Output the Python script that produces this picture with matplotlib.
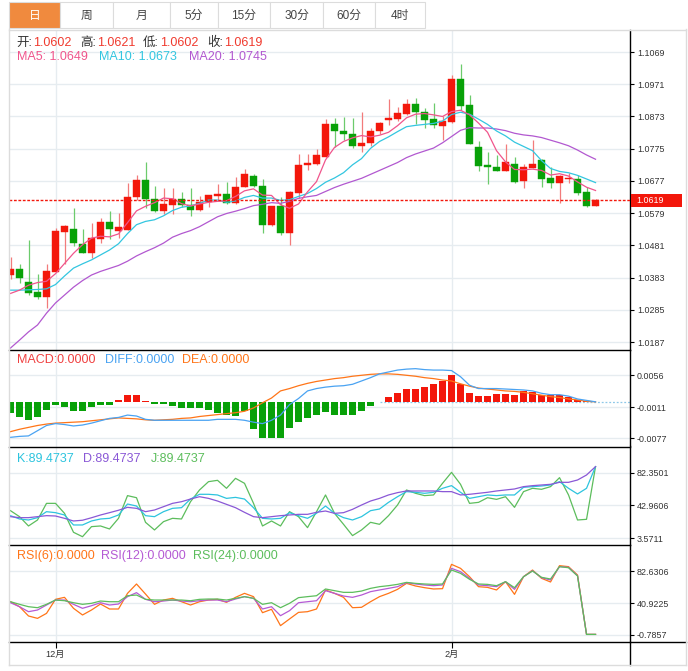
import matplotlib
matplotlib.use('Agg')
import matplotlib.pyplot as plt
from matplotlib.lines import Line2D
from matplotlib.patches import Rectangle

plt.rcParams['font.family'] = ['Liberation Sans', 'Noto Sans CJK SC', 'DejaVu Sans']

# ---------------- data ----------------
tabs = ['日', '周', '月', '5分', '15分', '30分', '60分', '4时']

opens = [1.0392, 1.0409, 1.0369, 1.0339, 1.0325, 1.0401, 1.0523, 1.0530, 1.0486, 1.0459,
         1.0502, 1.0552, 1.0526, 1.0528, 1.0629, 1.0680, 1.0621, 1.0586, 1.0605, 1.0621,
         1.0603, 1.0589, 1.0613, 1.0630, 1.0637, 1.0609, 1.0659, 1.0692, 1.0662, 1.0544,
         1.0601, 1.0519, 1.0639, 1.0724, 1.0729, 1.0751, 1.0851, 1.0830, 1.0820, 1.0784,
         1.0791, 1.0829, 1.0862, 1.0866, 1.0880, 1.0911, 1.0887, 1.0864, 1.0844, 1.0857,
         1.0987, 1.0908, 1.0780, 1.0725, 1.0720, 1.0707, 1.0730, 1.0678, 1.0716, 1.0741,
         1.0685, 1.0670, 1.0682, 1.0683, 1.0643, 1.0602]
highs = [1.0447, 1.0426, 1.0497, 1.0394, 1.0426, 1.0533, 1.0544, 1.0594, 1.0532, 1.0548,
         1.0563, 1.0586, 1.0579, 1.0672, 1.0695, 1.0734, 1.0662, 1.0656, 1.0656, 1.0643,
         1.0656, 1.0631, 1.0634, 1.0668, 1.0674, 1.0688, 1.0712, 1.0697, 1.0682, 1.0601,
         1.0627, 1.0646, 1.0759, 1.0759, 1.0773, 1.0865, 1.0867, 1.0872, 1.0867, 1.0887,
         1.0839, 1.0857, 1.0926, 1.0903, 1.0925, 1.0930, 1.0898, 1.0915, 1.0875, 1.0999,
         1.1033, 1.0939, 1.0798, 1.0765, 1.0756, 1.0789, 1.0751, 1.0730, 1.0801, 1.0743,
         1.0718, 1.0695, 1.0700, 1.0695, 1.0659, 1.0621]
lows = [1.0380, 1.0367, 1.0330, 1.0319, 1.0290, 1.0400, 1.0426, 1.0479, 1.0457, 1.0442,
        1.0489, 1.0500, 1.0505, 1.0528, 1.0619, 1.0594, 1.0583, 1.0578, 1.0578, 1.0597,
        1.0571, 1.0586, 1.0599, 1.0619, 1.0607, 1.0607, 1.0658, 1.0659, 1.0519, 1.0540,
        1.0513, 1.0482, 1.0626, 1.0710, 1.0727, 1.0750, 1.0779, 1.0801, 1.0776, 1.0766,
        1.0783, 1.0820, 1.0847, 1.0859, 1.0877, 1.0850, 1.0837, 1.0839, 1.0801, 1.0852,
        1.0893, 1.0790, 1.0708, 1.0668, 1.0707, 1.0707, 1.0670, 1.0655, 1.0716, 1.0659,
        1.0656, 1.0611, 1.0670, 1.0634, 1.0599, 1.0602]
closes = [1.0409, 1.0383, 1.0337, 1.0325, 1.0404, 1.0525, 1.0540, 1.0489, 1.0459, 1.0503,
          1.0552, 1.0531, 1.0536, 1.0629, 1.0680, 1.0623, 1.0586, 1.0606, 1.0621, 1.0603,
          1.0590, 1.0614, 1.0633, 1.0637, 1.0609, 1.0659, 1.0698, 1.0662, 1.0544, 1.0601,
          1.0519, 1.0642, 1.0727, 1.0732, 1.0755, 1.0851, 1.0830, 1.0819, 1.0784, 1.0792,
          1.0830, 1.0854, 1.0867, 1.0883, 1.0910, 1.0886, 1.0862, 1.0847, 1.0859, 1.0987,
          1.0906, 1.0790, 1.0723, 1.0720, 1.0707, 1.0736, 1.0675, 1.0718, 1.0730, 1.0684,
          1.0670, 1.0692, 1.0685, 1.0641, 1.0602, 1.0619]

ma5 = [1.0335, 1.0345, 1.0360, 1.0368, 1.0372, 1.0395, 1.0426, 1.0457, 1.0483, 1.0503,
       1.0509, 1.0507, 1.0516, 1.0550, 1.0586, 1.0600, 1.0611, 1.0625, 1.0623, 1.0608,
       1.0601, 1.0607, 1.0612, 1.0615, 1.0617, 1.0630, 1.0647, 1.0653, 1.0634, 1.0633,
       1.0605, 1.0594, 1.0607, 1.0644, 1.0675, 1.0741, 1.0779, 1.0797, 1.0808, 1.0815,
       1.0811, 1.0816, 1.0825, 1.0845, 1.0869, 1.0880, 1.0882, 1.0878, 1.0873, 1.0888,
       1.0892, 1.0878, 1.0853, 1.0825, 1.0769, 1.0735, 1.0712, 1.0711, 1.0713, 1.0709,
       1.0695, 1.0699, 1.0692, 1.0674, 1.0658, 1.0648]
ma10 = [1.0345, 1.0345, 1.0346, 1.0347, 1.0349, 1.0362, 1.0388, 1.0412, 1.0425, 1.0437,
        1.0452, 1.0467, 1.0486, 1.0517, 1.0544, 1.0554, 1.0559, 1.0571, 1.0587, 1.0597,
        1.0601, 1.0609, 1.0619, 1.0619, 1.0612, 1.0616, 1.0627, 1.0633, 1.0625, 1.0625,
        1.0618, 1.0620, 1.0630, 1.0639, 1.0654, 1.0673, 1.0686, 1.0702, 1.0726, 1.0745,
        1.0776, 1.0797, 1.0811, 1.0827, 1.0842, 1.0846, 1.0849, 1.0852, 1.0859, 1.0879,
        1.0886, 1.0880, 1.0865, 1.0849, 1.0829, 1.0814, 1.0795, 1.0782, 1.0769, 1.0739,
        1.0715, 1.0706, 1.0702, 1.0694, 1.0683, 1.0672]
ma20 = [1.0169, 1.0193, 1.0218, 1.0239, 1.0275, 1.0306, 1.0330, 1.0354, 1.0374, 1.0391,
        1.0402, 1.0411, 1.0420, 1.0433, 1.0449, 1.0462, 1.0474, 1.0488, 1.0506, 1.0517,
        1.0526, 1.0538, 1.0553, 1.0568, 1.0578, 1.0585, 1.0593, 1.0602, 1.0606, 1.0611,
        1.0609, 1.0615, 1.0624, 1.0629, 1.0633, 1.0645, 1.0657, 1.0667, 1.0676, 1.0685,
        1.0697, 1.0709, 1.0721, 1.0733, 1.0748, 1.0759, 1.0768, 1.0777, 1.0793, 1.0812,
        1.0831, 1.0839, 1.0838, 1.0838, 1.0835, 1.0830, 1.0822, 1.0817, 1.0814, 1.0809,
        1.0801, 1.0793, 1.0784, 1.0771, 1.0756, 1.0743]

macd_hist = [-0.0023, -0.0032, -0.0038, -0.0032, -0.0017, -0.0006, -0.0011, -0.0020, -0.0020, -0.0011,
             -0.0006, -0.0006, 0.0003, 0.0014, 0.0014, 0.0001, -0.0004, -0.0004, -0.0008, -0.0013,
             -0.0014, -0.0014, -0.0017, -0.0023, -0.0028, -0.0030, -0.0020, -0.0058, -0.0076, -0.0076,
             -0.0076, -0.0055, -0.0042, -0.0035, -0.0028, -0.0021, -0.0027, -0.0028, -0.0028, -0.0020,
             -0.0008, 0.0000, 0.0010, 0.0018, 0.0026, 0.0026, 0.0031, 0.0038, 0.0044, 0.0056,
             0.0037, 0.0019, 0.0012, 0.0013, 0.0017, 0.0017, 0.0015, 0.0022, 0.0020, 0.0015,
             0.0015, 0.0015, 0.0010, 0.0004, 0.0001, 0.0000]
diff = [-0.0075, -0.0073, -0.0072, -0.0061, -0.0050, -0.0046, -0.0048, -0.0051, -0.0049, -0.0045,
        -0.0040, -0.0035, -0.0033, -0.0028, -0.0030, -0.0037, -0.0039, -0.0039, -0.0039, -0.0039,
        -0.0039, -0.0039, -0.0039, -0.0037, -0.0037, -0.0037, -0.0039, -0.0043, -0.0046, -0.0039,
        -0.0028, -0.0006, 0.0007, 0.0023, 0.0028, 0.0031, 0.0033, 0.0034, 0.0037, 0.0044,
        0.0051, 0.0059, 0.0063, 0.0067, 0.0069, 0.0070, 0.0068, 0.0067, 0.0067, 0.0066,
        0.0053, 0.0035, 0.0028, 0.0028, 0.0028, 0.0027, 0.0026, 0.0025, 0.0023, 0.0018,
        0.0015, 0.0015, 0.0012, 0.0006, 0.0003, 0.0000]
dea = [-0.0063, -0.0058, -0.0054, -0.0050, -0.0047, -0.0045, -0.0044, -0.0043, -0.0042, -0.0040,
       -0.0038, -0.0036, -0.0034, -0.0035, -0.0036, -0.0038, -0.0039, -0.0038, -0.0037, -0.0035,
       -0.0034, -0.0031, -0.0029, -0.0027, -0.0025, -0.0023, -0.0020, -0.0013, -0.0002, 0.0008,
       0.0023, 0.0028, 0.0034, 0.0039, 0.0043, 0.0046, 0.0049, 0.0051, 0.0054, 0.0056,
       0.0058, 0.0059, 0.0059, 0.0058, 0.0056, 0.0054, 0.0051, 0.0049, 0.0046, 0.0044,
       0.0038, 0.0033, 0.0029, 0.0027, 0.0025, 0.0023, 0.0022, 0.0020, 0.0017, 0.0014,
       0.0011, 0.0009, 0.0006, 0.0004, 0.0001, 0.0000]

k_vals = [30.5, 26.5, 25.3, 28.1, 35.3, 34.1, 31.3, 19.3, 19.3, 24.1,
          26.5, 27.3, 31.3, 44.5, 42.1, 30.5, 29.3, 35.3, 39.3, 40.1,
          50.5, 56.2, 56.2, 55.4, 51.3, 52.5, 50.5, 40.1, 27.3, 26.5,
          27.3, 34.1, 30.5, 27.3, 33.3, 42.1, 33.3, 28.1, 25.3, 29.3,
          36.5, 38.5, 46.5, 53.3, 59.4, 58.6, 57.4, 58.6, 63.4, 66.6,
          58.6, 51.3, 53.3, 55.4, 54.6, 55.4, 55.4, 64.6, 65.4, 66.2,
          67.4, 71.4, 63.4, 56.6, 63.4, 89.4737]
d_vals = [29.3, 28.1, 28.1, 29.3, 30.5, 30.1, 27.3, 24.1, 25.0, 28.0,
          31.3, 34.1, 37.0, 40.5, 39.3, 35.3, 37.3, 41.3, 45.3, 47.3,
          50.5, 53.3, 51.3, 48.1, 44.1, 40.1, 34.5, 29.3, 28.1, 29.3,
          30.5, 31.3, 32.1, 32.1, 34.5, 36.1, 33.3, 34.1, 38.1, 43.3,
          48.1, 51.3, 55.4, 58.2, 60.2, 60.2, 60.2, 60.2, 59.4, 59.4,
          55.4, 56.2, 57.4, 58.6, 60.2, 61.4, 62.6, 65.4, 66.6, 67.4,
          68.2, 70.6, 70.6, 73.4, 79.4, 89.4737]
j_vals = [36.5, 29.3, 18.1, 25.3, 45.3, 45.3, 33.3, 10.5, 5.2, 17.3,
          18.1, 14.5, 27.3, 54.6, 52.1, 22.5, 13.3, 23.3, 27.3, 26.5,
          47.3, 61.4, 71.4, 73.0, 63.4, 75.4, 69.4, 45.3, 18.1, 24.1,
          18.1, 35.3, 29.3, 16.1, 35.3, 55.4, 33.3, 20.1, 6.5, 13.3,
          22.5, 20.1, 30.5, 43.3, 61.4, 57.4, 54.6, 55.4, 69.4, 82.6,
          68.2, 45.3, 46.5, 52.1, 50.1, 53.3, 40.5, 59.4, 63.4, 62.2,
          65.4, 76.2, 55.4, 25.3, 26.1, 89.4737]

rsi6 = [42.6, 36.1, 24.0, 20.9, 27.4, 45.7, 48.3, 34.0, 25.3, 31.8,
        39.6, 33.1, 33.1, 53.5, 65.7, 52.6, 39.2, 44.8, 47.0, 42.6,
        38.3, 42.6, 44.8, 45.7, 41.8, 48.3, 53.5, 49.2, 28.3, 32.7,
        11.4, 20.1, 28.7, 29.6, 33.1, 57.9, 53.5, 48.3, 34.8, 35.3,
        42.6, 49.2, 53.5, 58.7, 66.5, 63.1, 60.9, 59.2, 59.6, 91.3,
        86.1, 75.2, 62.2, 61.3, 57.9, 68.7, 52.2, 75.2, 83.9, 73.1,
        68.3, 89.6, 88.3, 77.4, 0.0, 0.0]
rsi12 = [41.3, 36.1, 29.6, 31.8, 38.3, 44.8, 44.8, 39.2, 34.0, 37.4,
         41.3, 38.3, 39.6, 49.2, 54.4, 45.7, 42.6, 43.5, 44.8, 43.5,
         42.6, 43.9, 44.8, 44.8, 42.6, 46.1, 49.2, 47.0, 33.1, 36.1,
         24.4, 30.9, 41.3, 42.6, 43.9, 57.0, 53.5, 50.0, 48.3, 51.3,
         55.7, 57.9, 60.0, 62.2, 67.4, 65.7, 64.4, 63.5, 64.4, 86.1,
         81.7, 73.1, 64.4, 63.5, 62.2, 68.7, 58.7, 75.2, 83.0, 73.9,
         70.9, 88.3, 87.4, 76.5, 0.0, 0.0]
rsi24 = [42.6, 39.2, 36.1, 34.8, 39.2, 44.8, 43.9, 41.3, 39.2, 40.5,
         43.5, 42.6, 42.6, 50.4, 51.3, 45.7, 44.8, 44.8, 44.8, 44.8,
         43.9, 45.7, 46.1, 46.1, 44.8, 47.0, 49.2, 47.0, 39.2, 41.3,
         34.8, 40.5, 47.9, 49.2, 50.4, 59.2, 57.0, 54.8, 54.8, 56.5,
         60.0, 62.2, 63.5, 65.2, 67.8, 66.5, 65.7, 65.2, 65.7, 83.9,
         79.6, 71.8, 65.7, 65.2, 63.5, 68.7, 60.9, 75.2, 82.6, 74.4,
         72.2, 88.3, 86.9, 76.1, 0.0, 0.0]

price_ticks = [1.1069, 1.0971, 1.0873, 1.0775, 1.0677, 1.0579, 1.0481, 1.0383, 1.0285, 1.0187]
macd_ticks = [0.0056, -0.0011, -0.0077]
kdj_ticks = [82.3501, 42.9606, 3.5711]
rsi_ticks = [82.6306, 40.9225, -0.7857]
month_labels = ['12月', '2月']
month_index = [5, 49]

legend_ma = [('MA5', '1.0649'), ('MA10', '1.0673'), ('MA20', '1.0745')]
legend_kdj = [('K', '89.4737'), ('D', '89.4737'), ('J', '89.4737')]
legend_macd = [('MACD', '0.0000'), ('DIFF', '0.0000'), ('DEA', '0.0000')]
legend_rsi = [('RSI(6)', '0.0000'), ('RSI(12)', '0.0000'), ('RSI(24)', '0.0000')]

# ---------------- style ----------------
W, H = 688, 671
RED = '#f3170b'
GREEN = '#08a108'
RED_W = '#f27b7b'
GREEN_W = '#6ccb6c'
GRID = '#e6ecf0'
FRAME = '#dcdcdc'
C_MA5, C_MA10, C_MA20 = '#f0558c', '#33c6e0', '#b258d0'
C_DIFF, C_DEA = '#4aa3f2', '#ff7518'
C_K, C_D, C_J = '#2dc4de', '#8a58d6', '#5cbd5c'
C_R6, C_R12, C_R24 = '#ff7518', '#b55ad4', '#5cbd5c'
TXT = '#333333'
LEG = 9
TICK = 6.4

fig = plt.figure(figsize=(W / 100, H / 100), dpi=100)
fig.patch.set_facecolor('white')


def fx(x):
    return x / W


def fy(y):
    return 1 - y / H


def ftext(x, y, s, color, size=LEG, ha='left', va='center', **kw):
    fig.text(fx(x), fy(y), s, color=color, fontsize=size, ha=ha, va=va, **kw)


def fline(x0, y0, x1, y1, color, lw=1.0, **kw):
    fig.add_artist(Line2D([fx(x0), fx(x1)], [fy(y0), fy(y1)], color=color, lw=lw,
                          transform=fig.transFigure, **kw))


XL, XR = 9, 630
n = len(closes)
idx = list(range(n))
x_lim = (-0.1667, 68.83)


def make_ax(top, bottom, ylim, ticks, labels):
    ax = fig.add_axes([fx(XL), fy(bottom), (XR - XL) / W, (bottom - top) / H])
    ax.set_xlim(*x_lim)
    ax.set_ylim(*ylim)
    ax.set_facecolor('white')
    for s in ['top', 'left', 'bottom']:
        ax.spines[s].set_visible(False)
    ax.spines['right'].set_color('black')
    ax.spines['right'].set_linewidth(1.0)
    ax.yaxis.tick_right()
    ax.set_yticks(ticks)
    ax.set_yticklabels(labels)
    ax.tick_params(axis='y', length=3, width=0.8, color='black', pad=2,
                   labelsize=TICK, labelcolor=TXT)
    ax.set_xticks([])
    for t in ticks:
        ax.axhline(t, color=GRID, lw=1.0, zorder=0)
    for m in month_index:
        ax.axvline(m, color=GRID, lw=1.0, zorder=0)
    return ax


# ---------------- main price panel ----------------
ax = make_ax(30, 350, (1.0163, 1.1136), price_ticks, ['%.4f' % t for t in price_ticks])
for i in idx:
    o, h, l, c = opens[i], highs[i], lows[i], closes[i]
    up = c >= o
    col = RED if up else GREEN
    wcol = RED_W if up else GREEN_W
    ax.vlines(i, l, h, color=wcol, lw=0.9, zorder=2)
    body = max(abs(c - o), 0.00012)
    ax.bar(i, body, bottom=min(o, c), width=0.7, color=col, edgecolor=col, lw=0.3, zorder=3)
ax.plot(idx, ma20, color=C_MA20, lw=0.9, zorder=4)
ax.plot(idx, ma10, color=C_MA10, lw=0.9, zorder=4)
ax.plot(idx, ma5, color=C_MA5, lw=0.9, zorder=4)
ax.axhline(closes[-1], color=RED, lw=1.0, ls=(0, (2, 1.2)), zorder=5)

# current price tag
fig.add_artist(Rectangle((fx(631), fy(207)), (682 - 631) / W, 13 / H, facecolor=RED,
                         edgecolor='none', transform=fig.transFigure, zorder=10))
ftext(636, 200.5, '%.4f' % closes[-1], 'white', size=TICK, zorder=11)

# ---------------- MACD panel ----------------
axm = make_ax(350, 446, (-0.00933, 0.01094), macd_ticks, ['%.4f' % t for t in macd_ticks])
mcols = [RED if v > 0 else GREEN for v in macd_hist]
axm.bar(idx, macd_hist, width=0.7, color=mcols, zorder=2)
axm.plot([41, x_lim[1]], [0, 0], color='#8ec8e8', lw=0.9, ls=(0, (1.5, 1.5)), zorder=1)
axm.plot(idx, dea, color=C_DEA, lw=0.9, zorder=3)
axm.plot(idx, diff, color=C_DIFF, lw=0.9, zorder=3)

# ---------------- KDJ panel ----------------
axk = make_ax(446, 545, (-4.79, 114.29), kdj_ticks, ['%.4f' % t for t in kdj_ticks])
axk.plot(idx, j_vals, color=C_J, lw=0.9, zorder=3)
axk.plot(idx, k_vals, color=C_K, lw=0.9, zorder=3)
axk.plot(idx, d_vals, color=C_D, lw=0.9, zorder=3)

# ---------------- RSI panel ----------------
axr = make_ax(545, 642, (-9.91, 116.52), rsi_ticks, ['%.4f' % t for t in rsi_ticks])
axr.plot(idx, rsi6, color=C_R6, lw=0.9, zorder=3)
axr.plot(idx, rsi12, color=C_R12, lw=0.9, zorder=3)
axr.plot(idx, rsi24, color=C_R24, lw=0.9, zorder=3)
axr.set_xticks(month_index)
axr.set_xticklabels(month_labels)
axr.tick_params(axis='x', length=4, width=0.8, color='black', pad=1.5, labelsize=6.6,
                labelcolor=TXT)

# ---------------- separators / frame ----------------
for yy in (350, 446.5, 545):
    fline(XL, yy, XR, yy, 'black', lw=1.0)
fline(XL, 642, 686, 642, 'black', lw=1.0)
fline(XR, 642, XR, 665, 'black', lw=1.0)
fline(XL, 29, XL, 665, FRAME, lw=1.0)
fline(XL, 665, 686, 665, FRAME, lw=1.0)
fline(XL, 29.5, 686, 29.5, FRAME, lw=1.0)
fline(686, 29, 686, 665, FRAME, lw=1.0)

# ---------------- tabs ----------------
tab_edges = [9, 60, 113, 170, 218, 270, 323, 375, 425]
for k, name in enumerate(tabs):
    x0, x1 = tab_edges[k], tab_edges[k + 1]
    sel = (k == 0)
    fig.add_artist(Rectangle((fx(x0), fy(28)), (x1 - x0) / W, 26 / H,
                             facecolor='#f08a3e' if sel else 'white',
                             edgecolor=FRAME, lw=0.8, transform=fig.transFigure))
    ftext((x0 + x1) / 2, 15.5, name, 'white' if sel else '#444444', size=8.5, ha='center')

# ---------------- legends ----------------
last = n - 1
row1 = [('开:', 16, opens[last]), ('高:', 80, highs[last]), ('低:', 143, lows[last]),
        ('收:', 207, closes[last])]
for lab, x0, val in row1:
    ftext(x0, 43, lab, TXT)
    ftext(x0 + 17, 43, '%.4f' % val, '#f03a2e')
for (lab, val), x0, col in zip(legend_ma, (17, 99, 189), (C_MA5, C_MA10, C_MA20)):
    ftext(x0, 57, '%s: %s' % (lab, val), col)
for (lab, val), x0, col in zip(legend_macd, (16.5, 105, 182), ('#f04040', C_DIFF, C_DEA)):
    ftext(x0, 360, '%s:%s' % (lab, val), col)
for (lab, val), x0, col in zip(legend_kdj, (16.5, 83, 151), (C_K, C_D, C_J)):
    ftext(x0, 459, '%s:%s' % (lab, val), col)
for (lab, val), x0, col in zip(legend_rsi, (16.5, 101, 193), (C_R6, C_R12, C_R24)):
    ftext(x0, 556, '%s:%s' % (lab, val), col)

fig.savefig('out.png', dpi=100, facecolor='white')
